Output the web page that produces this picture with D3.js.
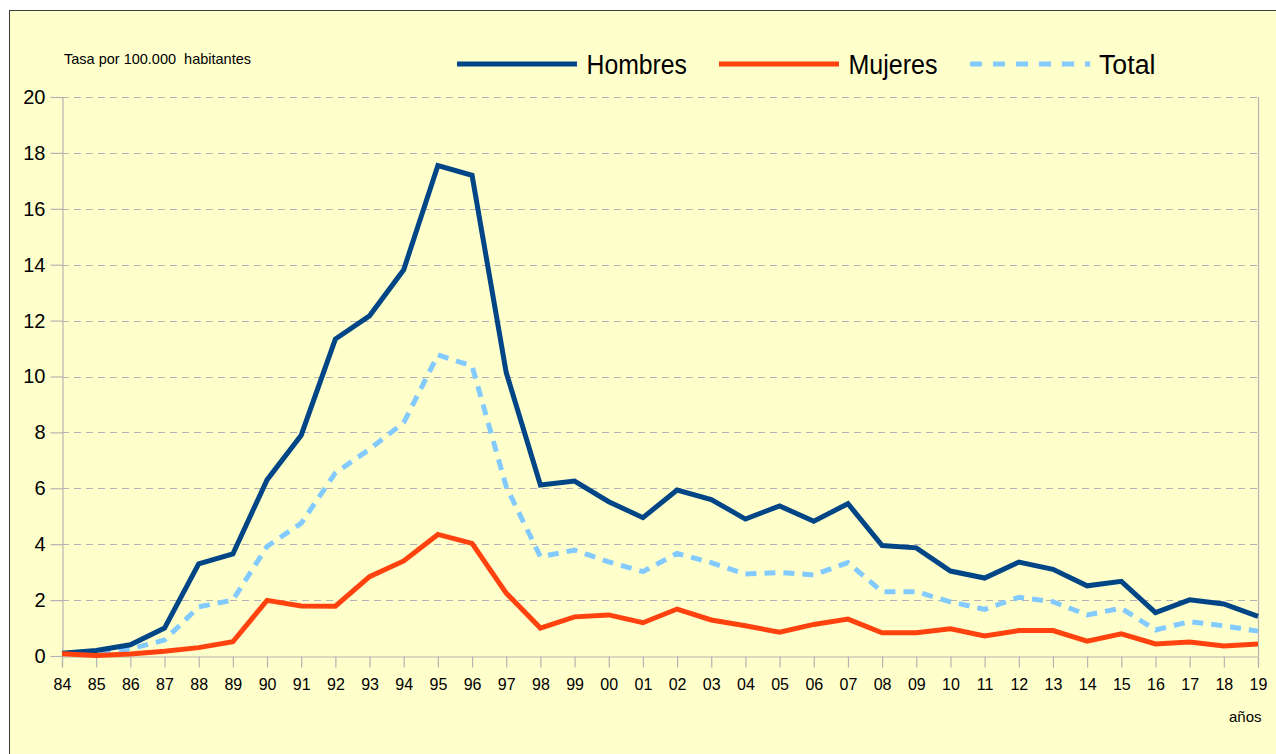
<!DOCTYPE html>
<html>
<head>
<meta charset="utf-8">
<script src="https://cdn.jsdelivr.net/npm/d3@7"></script>
<style>
  html, body { margin: 0; padding: 0; background: #ffffff; }
  svg { display: block; font-family: "Liberation Sans", Arial, sans-serif; }
</style>
</head>
<body>
<svg id="chart" width="1276" height="754"></svg>
<script>
// Años (etiquetas del eje X)
const years = ["84","85","86","87","88","89","90","91","92","93","94","95","96","97","98","99",
               "00","01","02","03","04","05","06","07","08","09","10","11","12","13","14","15",
               "16","17","18","19"];

// Tasa por 100.000 habitantes
const hombres = [0.1, 0.2, 0.4, 1.0, 3.3, 3.65, 6.3, 7.9, 11.34, 12.17, 13.82, 17.55, 17.2, 10.14, 6.12, 6.26,
                 5.52, 4.95, 5.94, 5.6, 4.9, 5.37, 4.82, 5.45, 3.95, 3.87, 3.04, 2.79, 3.36, 3.1, 2.51, 2.67,
                 1.55, 2.01, 1.86, 1.42];
const mujeres = [0.08, 0.02, 0.07, 0.17, 0.3, 0.51, 1.99, 1.79, 1.78, 2.84, 3.4, 4.35, 4.03, 2.25, 1.0, 1.4,
                 1.47, 1.19, 1.68, 1.29, 1.08, 0.85, 1.13, 1.32, 0.83, 0.83, 0.97, 0.72, 0.91, 0.91, 0.53, 0.79,
                 0.43, 0.5, 0.36, 0.43];
const total   = [0.08, 0.07, 0.25, 0.57, 1.76, 2.0, 3.92, 4.75, 6.55, 7.4, 8.35, 10.77, 10.38, 6.06, 3.55, 3.79,
                 3.37, 3.02, 3.67, 3.34, 2.93, 2.99, 2.9, 3.34, 2.3, 2.3, 1.94, 1.67, 2.1, 1.94, 1.47, 1.71,
                 0.93, 1.23, 1.08, 0.89];

const yTicks = [0, 2, 4, 6, 8, 10, 12, 14, 16, 18, 20];

const seriesNames  = ["Hombres", "Mujeres", "Total"];
const seriesColors = ["#004586", "#ff420e", "#83caff"];
const seriesData   = [hombres, mujeres, total];

const svg = d3.select("#chart");

// Fondo del gráfico
svg.append("rect")
  .attr("x", 9.5).attr("y", 10.5)
  .attr("width", 1300).attr("height", 800)
  .attr("fill", "#ffffcc")
  .attr("stroke", "#3c3c3c")
  .attr("stroke-width", 1);

const plot = { left: 62, right: 1258, top: 97, bottom: 656 };

const x = d3.scalePoint().domain(years).range([plot.left, plot.right]);
const y = d3.scaleLinear().domain([0, 20]).range([plot.bottom, plot.top]);

// Líneas de cuadrícula horizontales
svg.append("g")
  .selectAll("line")
  .data(yTicks.filter(d => d > 0))
  .join("line")
  .attr("x1", plot.left).attr("x2", plot.right)
  .attr("y1", d => Math.round(y(d)) + 0.5).attr("y2", d => Math.round(y(d)) + 0.5)
  .attr("stroke", "#b3b3b3")
  .attr("stroke-width", 1)
  .attr("stroke-dasharray", "7,5");

// Borde derecho del área de trazado
svg.append("line")
  .attr("x1", plot.right + 0.5).attr("x2", plot.right + 0.5)
  .attr("y1", plot.top).attr("y2", plot.bottom)
  .attr("stroke", "#b3b3b3").attr("stroke-width", 1.2);

// Eje Y
const yAxis = svg.append("g")
  .attr("transform", `translate(${plot.left + 0.5},0)`)
  .call(d3.axisLeft(y).tickValues(yTicks).tickSize(12).tickPadding(5).tickFormat(d3.format("d")));
yAxis.select(".domain").attr("stroke", "#b3b3b3").attr("stroke-width", 1.2);
yAxis.selectAll(".tick line").attr("stroke", "#b3b3b3").attr("stroke-width", 1.2);
yAxis.selectAll(".tick text")
  .attr("fill", "#000")
  .style("font-size", "20px")
  .style("font-family", "'Liberation Sans', Arial, sans-serif");

// Eje X
const xAxis = svg.append("g")
  .attr("transform", `translate(0,${plot.bottom + 0.5})`)
  .call(d3.axisBottom(x).tickSize(11).tickPadding(11));
xAxis.select(".domain").attr("stroke", "#b3b3b3").attr("stroke-width", 1.2);
xAxis.selectAll(".tick line").attr("stroke", "#b3b3b3").attr("stroke-width", 1.2);
xAxis.selectAll(".tick text")
  .attr("fill", "#000")
  .style("font-size", "16px")
  .style("font-family", "'Liberation Sans', Arial, sans-serif");

// Series
const line = d3.line()
  .x((d, i) => x(years[i]))
  .y(d => y(d))
  .curve(d3.curveLinear);

// Orden de dibujo: Total, Hombres, Mujeres
[2, 0, 1].forEach(k => {
  svg.append("path")
    .datum(seriesData[k])
    .attr("d", line)
    .attr("fill", "none")
    .attr("stroke", seriesColors[k])
    .attr("stroke-width", 5)
    .attr("stroke-linejoin", "miter")
    .attr("stroke-miterlimit", 3)
    .attr("stroke-dasharray", k === 2 ? "11,8" : null);
});

// Leyenda
const legendItems = [
  { x1: 457, x2: 577, tx: 586.5, len: 100.5 },
  { x1: 719, x2: 839, tx: 848.5, len: 89 },
  { x1: 970, x2: 1090, tx: 1099, len: 56.5 }
];
const legendY = 64;
legendItems.forEach((it, k) => {
  svg.append("line")
    .attr("x1", it.x1).attr("x2", it.x2)
    .attr("y1", legendY).attr("y2", legendY)
    .attr("stroke", seriesColors[k])
    .attr("stroke-width", 5)
    .attr("stroke-dasharray", k === 2 ? "12,11" : null);
  svg.append("text")
    .attr("x", it.tx).attr("y", legendY + 9.5)
    .attr("fill", "#000")
    .attr("textLength", it.len)
    .attr("lengthAdjust", "spacingAndGlyphs")
    .style("font-size", "27px")
    .text(seriesNames[k]);
});

// Título del eje Y
svg.append("text")
  .attr("x", 64).attr("y", 64)
  .attr("fill", "#000")
  .style("font-size", "14.5px")
  .style("white-space", "pre")
  .text("Tasa por 100.000  habitantes");

// Título del eje X
svg.append("text")
  .attr("x", 1229).attr("y", 722)
  .attr("fill", "#000")
  .style("font-size", "15px")
  .text("años");
</script>
</body>
</html>
